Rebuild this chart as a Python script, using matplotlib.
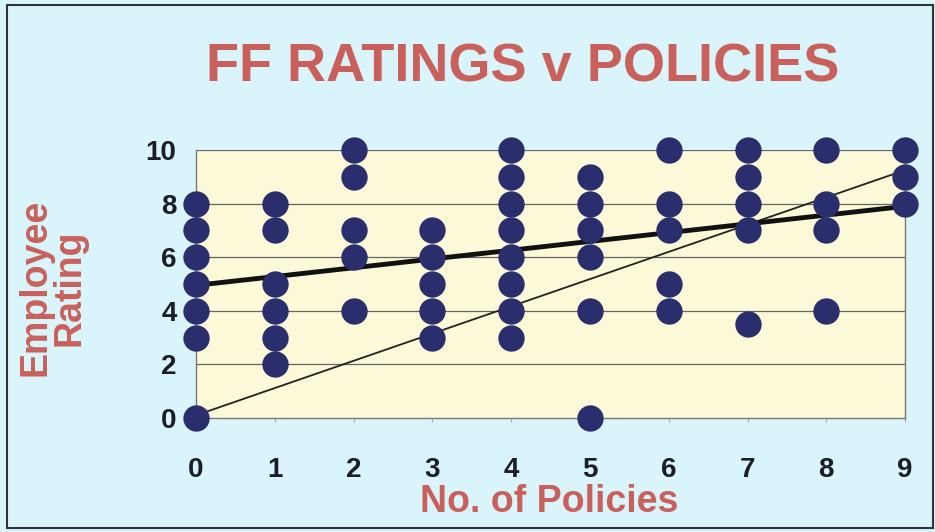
import matplotlib
matplotlib.use('Agg')
import matplotlib.pyplot as plt
from matplotlib.patches import Rectangle

plt.rcParams['font.family'] = ['Liberation Sans', 'DejaVu Sans']

# number of policies and employee rating for each firm
policies = [0, 0, 0, 0, 0, 0, 0,
            1, 1, 1, 1, 1, 1,
            2, 2, 2, 2, 2,
            3, 3, 3, 3, 3,
            4, 4, 4, 4, 4, 4, 4, 4,
            5, 5, 5, 5, 5, 5,
            6, 6, 6, 6, 6,
            7, 7, 7, 7, 7,
            8, 8, 8, 8,
            9, 9, 9]
ratings = [0, 3, 4, 5, 6, 7, 8,
           2, 3, 4, 5, 7, 8,
           4, 6, 7, 9, 10,
           3, 4, 5, 6, 7,
           3, 4, 5, 6, 7, 8, 9, 10,
           0, 4, 6, 7, 8, 9,
           4, 5, 7, 8, 10,
           3.5, 7, 8, 9, 10,
           4, 7, 8, 10,
           8, 9, 10]

# trend line (thick) and reference line (thin), end points
trend_x = [0, 9]
trend_y = [4.95, 7.9]
ref_x = [0, 9]
ref_y = [0.1, 9.25]

TITLE_RED = '#c9605b'
BG = '#d9f5fb'

fig = plt.figure(figsize=(9.35, 5.32), dpi=100)
fig.patch.set_facecolor(BG)
ax = fig.add_axes([0.2096, 0.2143, 0.7584, 0.5037])
ax.set_facecolor('#fbf9d7')

for y in range(2, 11, 2):
    ax.axhline(y, color='#666666', lw=0.9, zorder=1)

ax.plot(ref_x, ref_y, color='#222222', lw=1.3, zorder=2)
ax.plot(trend_x, trend_y, color='#111111', lw=3.5, zorder=2)
ax.scatter(policies, ratings, s=360, color='#2b2e6c', zorder=3, clip_on=False, linewidths=0)

ax.set_xlim(0, 9)
ax.set_ylim(0, 10)
ax.set_xticks(range(0, 10))
ax.set_yticks(range(0, 11, 2))
ax.spines['top'].set_visible(False)
for s in ['left', 'right', 'bottom']:
    ax.spines[s].set_color('#777777')
    ax.spines[s].set_linewidth(1.0)
ax.tick_params(axis='x', length=3, color='#aaaaaa', pad=25, labelsize=20, labelcolor='#1c1d28')
ax.tick_params(axis='y', length=0, pad=14, labelsize=20, labelcolor='#1c1d28')
for lab in ax.get_xticklabels() + ax.get_yticklabels():
    lab.set_fontweight('bold')

fig.text(0.559, 0.846, 'FF RATINGS v POLICIES', ha='center', va='baseline',
         fontsize=39, fontweight='bold', color=TITLE_RED)
fig.text(0.056, 0.459, 'Employee\nRating', ha='center', va='center', rotation=90,
         fontsize=27, fontweight='bold', color=TITLE_RED, linespacing=0.95)
fig.text(0.587, 0.038, 'No. of Policies', ha='center', va='baseline',
         fontsize=27, fontweight='bold', color=TITLE_RED)

fig.patches.append(Rectangle((0.008, 0.008), 0.99, 0.982, transform=fig.transFigure,
                             fill=False, edgecolor='#333333', lw=1.5))

plt.savefig('out.png', dpi=100, facecolor=BG)
